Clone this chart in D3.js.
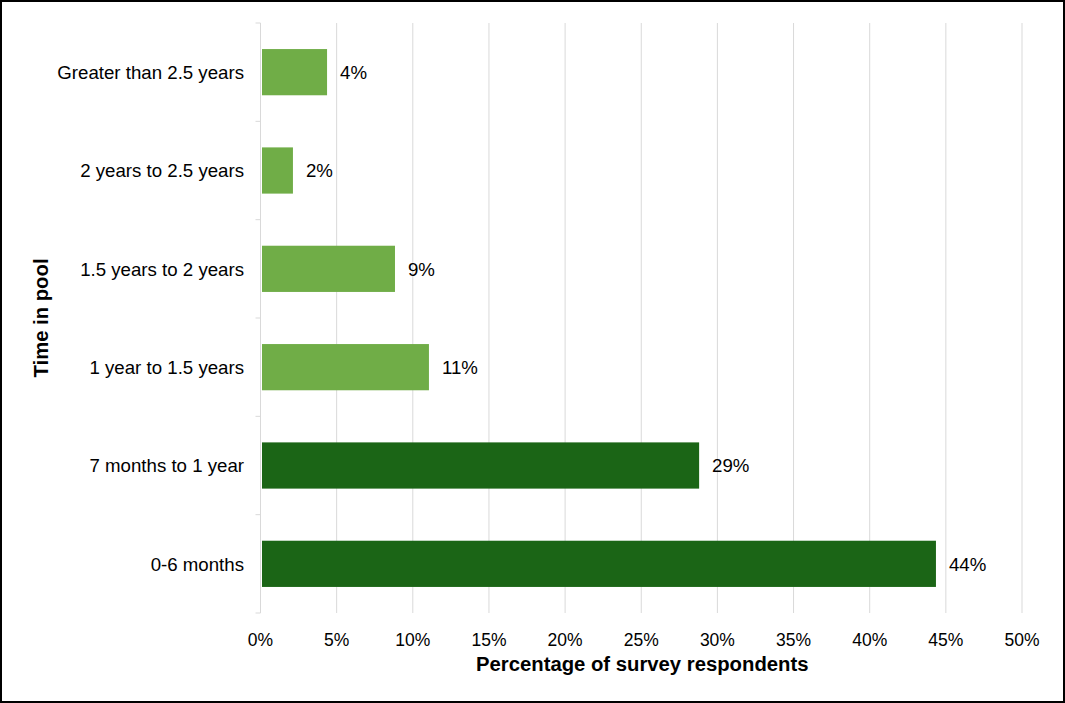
<!DOCTYPE html>
<html><head><meta charset="utf-8">
<script src="https://cdn.jsdelivr.net/npm/d3@7"></script>
<style>
html,body{margin:0;padding:0;background:#fff;}
svg{display:block;font-family:"Liberation Sans",Arial,sans-serif;}
</style></head>
<body>
<svg id="chart" width="1065" height="703"></svg>
<script>
const categories = ["Greater than 2.5 years","2 years to 2.5 years","1.5 years to 2 years","1 year to 1.5 years","7 months to 1 year","0-6 months"];
const values = [4.37, 2.13, 8.83, 11.06, 28.8, 44.35];
const valueLabels = ["4%","2%","9%","11%","29%","44%"];
const barGroups = ["light","light","light","light","dark","dark"];
const xTicks = [0,5,10,15,20,25,30,35,40,45,50];

const colors = {light:"#70AD47", dark:"#1B6516"};
const svg = d3.select("#chart");
const W = 1065, H = 703;
const m = {left:260.5, right:1022, top:23, bottom:613};

svg.append("rect").attr("x",1).attr("y",1).attr("width",W-2).attr("height",H-2)
  .attr("fill","#fff").attr("stroke","#000").attr("stroke-width",2);

const x = d3.scaleLinear().domain([0,50]).range([m.left,m.right]);
const y = d3.scaleBand().domain(categories).range([m.top,m.bottom]).paddingInner(0.53).paddingOuter(0.265);

// gridlines
svg.append("g").selectAll("line").data(xTicks).join("line")
  .attr("x1",d=>x(d)).attr("x2",d=>x(d)).attr("y1",m.top).attr("y2",m.bottom)
  .attr("stroke","#d9d9d9").attr("stroke-width",1);

// y category boundary ticks
const step = (m.bottom-m.top)/categories.length;
const bounds = d3.range(categories.length+1).map(i=>m.top+i*step);
svg.append("g").selectAll("line").data(bounds).join("line")
  .attr("x1",m.left-5).attr("x2",m.left).attr("y1",d=>d).attr("y2",d=>d)
  .attr("stroke","#d9d9d9").attr("stroke-width",1);

// bars
svg.append("g").selectAll("rect").data(categories).join("rect")
  .attr("x",x(0)+1.5).attr("y",d=>y(d))
  .attr("width",(d,i)=>x(values[i])-x(0)-1.5).attr("height",y.bandwidth())
  .attr("fill",(d,i)=>colors[barGroups[i]]);

// value labels
svg.append("g").selectAll("text").data(categories).join("text")
  .attr("x",(d,i)=>x(values[i])+13).attr("y",d=>y(d)+y.bandwidth()/2)
  .attr("dy","0.36em").attr("font-size",18.67).attr("fill","#000")
  .text((d,i)=>valueLabels[i]);

// y labels
svg.append("g").selectAll("text").data(categories).join("text")
  .attr("x",244).attr("y",d=>y(d)+y.bandwidth()/2).attr("dy","0.36em")
  .attr("text-anchor","end").attr("font-size",18.67).attr("fill","#000").text(d=>d);

// x tick labels
svg.append("g").selectAll("text").data(xTicks).join("text")
  .attr("x",d=>x(d)).attr("y",646).attr("text-anchor","middle")
  .attr("font-size",17.5).attr("fill","#000").text(d=>d+"%");

// axis titles
svg.append("text").attr("x",(m.left+m.right)/2+1).attr("y",671).attr("text-anchor","middle")
  .attr("font-size",20.3).attr("font-weight","bold").text("Percentage of survey respondents");
svg.append("text").attr("transform",`translate(48,${(m.top+m.bottom)/2}) rotate(-90)`)
  .attr("text-anchor","middle").attr("font-size",20.3).attr("font-weight","bold").text("Time in pool");
</script>
</body></html>
